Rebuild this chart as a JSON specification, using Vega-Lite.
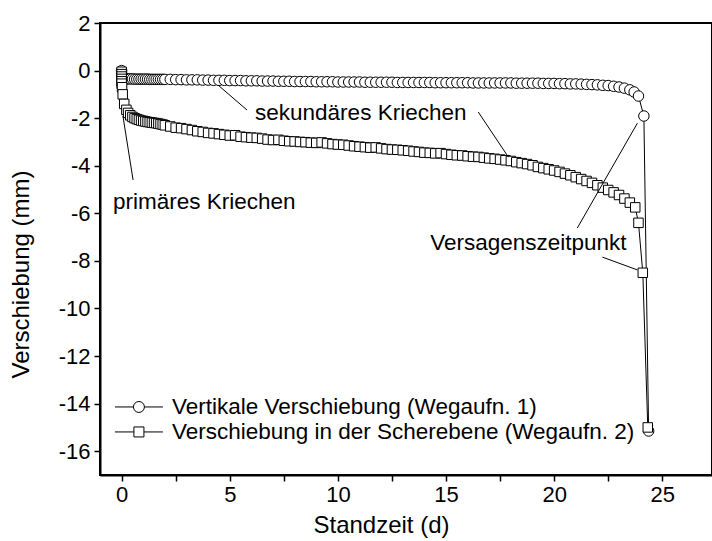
{
"$schema":"https://vega.github.io/schema/vega-lite/v6.json",
"width":612,"height":452,
"autosize":{"type":"none"},
"padding":{"left":100,"top":23,"right":0,"bottom":66},
"background":"white",
"config":{"font":"Liberation Sans","view":{"stroke":"black","strokeWidth":2},
 "axis":{"labelFont":"Liberation Sans","labelFontSize":22,"labelColor":"black","titleFont":"Liberation Sans","titleFontSize":24,"titleFontWeight":"normal","titleColor":"black","domainColor":"black","domainWidth":2,"tickColor":"black","tickWidth":1.5,"grid":false}
},
"datasets":{
"d":[
{"s":"A","t":0,"v":0},{"s":"A","t":0,"v":-0.12},{"s":"A","t":0,"v":-0.22},{"s":"A","t":0.02,"v":-0.3},{"s":"A","t":0.05,"v":-0.33},{"s":"A","t":0.1,"v":-0.34},{"s":"A","t":0.15,"v":-0.34},{"s":"A","t":0.2,"v":-0.35},{"s":"A","t":0.3,"v":-0.35},{"s":"A","t":0.4,"v":-0.35},{"s":"A","t":0.5,"v":-0.35},{"s":"A","t":0.6,"v":-0.36},{"s":"A","t":0.7,"v":-0.36},{"s":"A","t":0.8,"v":-0.36},{"s":"A","t":0.9,"v":-0.36},{"s":"A","t":1.0,"v":-0.36},{"s":"A","t":1.1,"v":-0.36},{"s":"A","t":1.2,"v":-0.36},{"s":"A","t":1.3,"v":-0.37},{"s":"A","t":1.4,"v":-0.37},{"s":"A","t":1.5,"v":-0.37},{"s":"A","t":1.6,"v":-0.37},{"s":"A","t":1.7,"v":-0.37},{"s":"A","t":1.8,"v":-0.37},{"s":"A","t":1.9,"v":-0.37},{"s":"A","t":2.0,"v":-0.37},
{"s":"A","t":2.25,"v":-0.37},{"s":"A","t":2.5,"v":-0.38},{"s":"A","t":2.75,"v":-0.38},{"s":"A","t":3,"v":-0.39},{"s":"A","t":3.25,"v":-0.39},{"s":"A","t":3.5,"v":-0.39},{"s":"A","t":3.75,"v":-0.4},{"s":"A","t":4,"v":-0.4},{"s":"A","t":4.25,"v":-0.41},{"s":"A","t":4.5,"v":-0.41},{"s":"A","t":4.75,"v":-0.41},{"s":"A","t":5,"v":-0.42},{"s":"A","t":5.25,"v":-0.42},{"s":"A","t":5.5,"v":-0.42},{"s":"A","t":5.75,"v":-0.43},{"s":"A","t":6,"v":-0.43},{"s":"A","t":6.25,"v":-0.43},{"s":"A","t":6.5,"v":-0.44},{"s":"A","t":6.75,"v":-0.44},{"s":"A","t":7,"v":-0.44},{"s":"A","t":7.25,"v":-0.45},{"s":"A","t":7.5,"v":-0.45},{"s":"A","t":7.75,"v":-0.45},{"s":"A","t":8,"v":-0.46},{"s":"A","t":8.25,"v":-0.46},{"s":"A","t":8.5,"v":-0.46},{"s":"A","t":8.75,"v":-0.46},{"s":"A","t":9,"v":-0.47},{"s":"A","t":9.25,"v":-0.47},{"s":"A","t":9.5,"v":-0.47},{"s":"A","t":9.75,"v":-0.47},{"s":"A","t":10,"v":-0.48},{"s":"A","t":10.25,"v":-0.48},{"s":"A","t":10.5,"v":-0.48},{"s":"A","t":10.75,"v":-0.48},{"s":"A","t":11,"v":-0.48},{"s":"A","t":11.25,"v":-0.49},{"s":"A","t":11.5,"v":-0.49},{"s":"A","t":11.75,"v":-0.49},{"s":"A","t":12,"v":-0.49},{"s":"A","t":12.25,"v":-0.49},{"s":"A","t":12.5,"v":-0.49},{"s":"A","t":12.75,"v":-0.5},{"s":"A","t":13,"v":-0.5},{"s":"A","t":13.25,"v":-0.5},{"s":"A","t":13.5,"v":-0.5},{"s":"A","t":13.75,"v":-0.5},{"s":"A","t":14,"v":-0.5},{"s":"A","t":14.25,"v":-0.5},{"s":"A","t":14.5,"v":-0.51},{"s":"A","t":14.75,"v":-0.51},{"s":"A","t":15,"v":-0.51},{"s":"A","t":15.25,"v":-0.51},{"s":"A","t":15.5,"v":-0.51},{"s":"A","t":15.75,"v":-0.51},{"s":"A","t":16,"v":-0.51},{"s":"A","t":16.25,"v":-0.52},{"s":"A","t":16.5,"v":-0.52},{"s":"A","t":16.75,"v":-0.52},{"s":"A","t":17,"v":-0.52},{"s":"A","t":17.25,"v":-0.52},{"s":"A","t":17.5,"v":-0.52},{"s":"A","t":17.75,"v":-0.52},{"s":"A","t":18,"v":-0.52},{"s":"A","t":18.25,"v":-0.53},{"s":"A","t":18.5,"v":-0.53},{"s":"A","t":18.75,"v":-0.53},{"s":"A","t":19,"v":-0.53},{"s":"A","t":19.25,"v":-0.53},{"s":"A","t":19.5,"v":-0.54},{"s":"A","t":19.75,"v":-0.54},{"s":"A","t":20,"v":-0.54},{"s":"A","t":20.25,"v":-0.55},{"s":"A","t":20.5,"v":-0.55},{"s":"A","t":20.75,"v":-0.56},{"s":"A","t":21,"v":-0.56},{"s":"A","t":21.25,"v":-0.57},{"s":"A","t":21.5,"v":-0.58},{"s":"A","t":21.75,"v":-0.59},{"s":"A","t":22,"v":-0.6},{"s":"A","t":22.25,"v":-0.62},{"s":"A","t":22.5,"v":-0.63},{"s":"A","t":22.75,"v":-0.66},{"s":"A","t":23,"v":-0.69},{"s":"A","t":23.25,"v":-0.74},{"s":"A","t":23.5,"v":-0.81},{"s":"A","t":23.7,"v":-0.9},{"s":"A","t":23.9,"v":-1.07},{"s":"A","t":24.15,"v":-1.91},{"s":"A","t":24.37,"v":-15.15},
{"s":"B","t":0,"v":-0.05},{"s":"B","t":0,"v":-0.15},{"s":"B","t":0,"v":-0.25},{"s":"B","t":0,"v":-0.35},{"s":"B","t":0,"v":-0.45},{"s":"B","t":0,"v":-0.55},{"s":"B","t":0.02,"v":-0.7},{"s":"B","t":0.05,"v":-1.0},{"s":"B","t":0.12,"v":-1.4},{"s":"B","t":0.22,"v":-1.65},{"s":"B","t":0.3,"v":-1.78},{"s":"B","t":0.4,"v":-1.88},{"s":"B","t":0.5,"v":-1.95},{"s":"B","t":0.6,"v":-2.0},{"s":"B","t":0.7,"v":-2.04},{"s":"B","t":0.8,"v":-2.07},{"s":"B","t":0.9,"v":-2.1},{"s":"B","t":1.0,"v":-2.12},{"s":"B","t":1.1,"v":-2.14},{"s":"B","t":1.2,"v":-2.16},{"s":"B","t":1.3,"v":-2.17},{"s":"B","t":1.4,"v":-2.19},{"s":"B","t":1.5,"v":-2.2},{"s":"B","t":1.6,"v":-2.21},{"s":"B","t":1.7,"v":-2.23},{"s":"B","t":1.8,"v":-2.25},{"s":"B","t":1.9,"v":-2.27},{"s":"B","t":2.0,"v":-2.3},
{"s":"B","t":2.25,"v":-2.35},{"s":"B","t":2.5,"v":-2.4},{"s":"B","t":2.75,"v":-2.42},{"s":"B","t":3,"v":-2.46},{"s":"B","t":3.25,"v":-2.5},{"s":"B","t":3.5,"v":-2.55},{"s":"B","t":3.75,"v":-2.58},{"s":"B","t":4,"v":-2.62},{"s":"B","t":4.25,"v":-2.64},{"s":"B","t":4.5,"v":-2.67},{"s":"B","t":4.75,"v":-2.7},{"s":"B","t":5,"v":-2.73},{"s":"B","t":5.25,"v":-2.72},{"s":"B","t":5.5,"v":-2.78},{"s":"B","t":5.75,"v":-2.8},{"s":"B","t":6,"v":-2.82},{"s":"B","t":6.25,"v":-2.83},{"s":"B","t":6.5,"v":-2.86},{"s":"B","t":6.75,"v":-2.9},{"s":"B","t":7,"v":-2.92},{"s":"B","t":7.25,"v":-2.91},{"s":"B","t":7.5,"v":-2.95},{"s":"B","t":7.75,"v":-2.97},{"s":"B","t":8,"v":-2.98},{"s":"B","t":8.25,"v":-3.0},{"s":"B","t":8.5,"v":-3.01},{"s":"B","t":8.75,"v":-3.03},{"s":"B","t":9,"v":-3.04},{"s":"B","t":9.25,"v":-3.02},{"s":"B","t":9.5,"v":-3.06},{"s":"B","t":9.75,"v":-3.09},{"s":"B","t":10,"v":-3.11},{"s":"B","t":10.25,"v":-3.12},{"s":"B","t":10.5,"v":-3.15},{"s":"B","t":10.75,"v":-3.18},{"s":"B","t":11,"v":-3.2},{"s":"B","t":11.25,"v":-3.22},{"s":"B","t":11.5,"v":-3.24},{"s":"B","t":11.75,"v":-3.23},{"s":"B","t":12,"v":-3.27},{"s":"B","t":12.25,"v":-3.3},{"s":"B","t":12.5,"v":-3.32},{"s":"B","t":12.75,"v":-3.33},{"s":"B","t":13,"v":-3.35},{"s":"B","t":13.25,"v":-3.37},{"s":"B","t":13.5,"v":-3.4},{"s":"B","t":13.75,"v":-3.42},{"s":"B","t":14,"v":-3.45},{"s":"B","t":14.25,"v":-3.46},{"s":"B","t":14.5,"v":-3.48},{"s":"B","t":14.75,"v":-3.47},{"s":"B","t":15,"v":-3.51},{"s":"B","t":15.25,"v":-3.54},{"s":"B","t":15.5,"v":-3.56},{"s":"B","t":15.75,"v":-3.57},{"s":"B","t":16,"v":-3.6},{"s":"B","t":16.25,"v":-3.62},{"s":"B","t":16.5,"v":-3.63},{"s":"B","t":16.75,"v":-3.66},{"s":"B","t":17,"v":-3.69},{"s":"B","t":17.25,"v":-3.71},{"s":"B","t":17.5,"v":-3.74},{"s":"B","t":17.75,"v":-3.77},{"s":"B","t":18,"v":-3.8},{"s":"B","t":18.25,"v":-3.85},{"s":"B","t":18.5,"v":-3.89},{"s":"B","t":18.75,"v":-3.93},{"s":"B","t":19,"v":-3.98},{"s":"B","t":19.25,"v":-4.05},{"s":"B","t":19.5,"v":-4.1},{"s":"B","t":19.75,"v":-4.15},{"s":"B","t":20,"v":-4.2},{"s":"B","t":20.25,"v":-4.26},{"s":"B","t":20.5,"v":-4.33},{"s":"B","t":20.75,"v":-4.4},{"s":"B","t":21,"v":-4.48},{"s":"B","t":21.25,"v":-4.56},{"s":"B","t":21.5,"v":-4.64},{"s":"B","t":21.75,"v":-4.72},{"s":"B","t":22,"v":-4.82},{"s":"B","t":22.25,"v":-4.92},{"s":"B","t":22.5,"v":-5.02},{"s":"B","t":22.75,"v":-5.12},{"s":"B","t":23,"v":-5.23},{"s":"B","t":23.25,"v":-5.38},{"s":"B","t":23.5,"v":-5.55},{"s":"B","t":23.75,"v":-5.75},{"s":"B","t":23.9,"v":-6.4},{"s":"B","t":24.1,"v":-8.5},{"s":"B","t":24.33,"v":-15.0}
],
"ann":[
{"label":"primäres Kriechen","t":-0.4,"v":-5.52},
{"label":"sekundäres Kriechen","t":6.17,"v":-1.78},
{"label":"Versagenszeitpunkt","t":14.27,"v":-7.25}
],
"lead":[
{"t":0.53,"v":-4.6,"t2":0.06,"v2":-1.91},
{"t":4.46,"v":-0.61,"t2":5.8,"v2":-1.66},
{"t":16.49,"v":-1.74,"t2":17.88,"v2":-3.63},
{"t":21.07,"v":-6.62,"t2":23.85,"v2":-2.21},
{"t":22.23,"v":-7.84,"t2":23.85,"v2":-8.38}
],
"leg":[
{"s":"A","t":0.8,"v":-14.14,"label":"Vertikale Verschiebung (Wegaufn. 1)"},
{"s":"B","t":0.8,"v":-15.19,"label":"Verschiebung in der Scherebene (Wegaufn. 2)"}
]
},
"layer":[
{"data":{"name":"d"},
 "mark":{"type":"line","color":"black","strokeWidth":1},
 "encoding":{
  "x":{"field":"t","type":"quantitative","scale":{"domain":[-1,27.3],"nice":false,"zero":false},
   "axis":{"orient":"bottom","values":[0,2.5,5,7.5,10,12.5,15,17.5,20,22.5,25],"ticks":true,"tickSize":6,"labelPadding":3,"labelExpr":"datum.value % 5 == 0 ? '' + datum.value : ''","title":"Standzeit (d)","titleX":281,"titleY":57,"titleBaseline":"alphabetic","titleAlign":"center"}},
  "y":{"field":"v","type":"quantitative","scale":{"domain":[-17,2],"nice":false,"zero":false},
   "axis":{"orient":"left","values":[-16,-15,-14,-13,-12,-11,-10,-9,-8,-7,-6,-5,-4,-3,-2,-1,0,1,2],"ticks":true,"tickSize":6,"labelPadding":4,"labelExpr":"datum.value % 2 == 0 ? '' + datum.value : ''","title":"Verschiebung (mm)","titleX":-72,"titleY":251,"titleBaseline":"alphabetic","titleAlign":"center","titleAngle":-90}},
  "detail":{"field":"s"}
 }},
{"data":{"name":"d"},
 "transform":[{"filter":"datum.s == 'A'"}],
 "mark":{"type":"point","shape":"circle","size":110,"filled":true,"fill":"white","stroke":"black","strokeWidth":1,"opacity":1},
 "encoding":{
  "x":{"field":"t","type":"quantitative"},
  "y":{"field":"v","type":"quantitative"}
 }},
{"data":{"name":"d"},
 "transform":[{"filter":"datum.s == 'B'"}],
 "mark":{"type":"point","shape":"square","size":90,"filled":true,"fill":"white","stroke":"black","strokeWidth":1,"opacity":1},
 "encoding":{
  "x":{"field":"t","type":"quantitative"},
  "y":{"field":"v","type":"quantitative"}
 }},
{"data":{"name":"lead"},
 "mark":{"type":"rule","color":"black","strokeWidth":1},
 "encoding":{
  "x":{"field":"t","type":"quantitative"},
  "y":{"field":"v","type":"quantitative"},
  "x2":{"field":"t2"},
  "y2":{"field":"v2"}
 }},
{"data":{"name":"ann"},
 "mark":{"type":"text","align":"left","baseline":"middle","font":"Liberation Sans","fontSize":22.5,"color":"black"},
 "encoding":{
  "x":{"field":"t","type":"quantitative"},
  "y":{"field":"v","type":"quantitative"},
  "text":{"field":"label"}
 }},
{"data":{"name":"leg"},
 "mark":{"type":"rule","color":"black","strokeWidth":1,"xOffset":-24,"x2Offset":24},
 "encoding":{
  "x":{"field":"t","type":"quantitative"},
  "x2":{"field":"t"},
  "y":{"field":"v","type":"quantitative"}
 }},
{"data":{"name":"leg"},
 "mark":{"type":"point","filled":true,"fill":"white","stroke":"black","strokeWidth":1,"opacity":1},
 "encoding":{
  "x":{"field":"t","type":"quantitative"},
  "y":{"field":"v","type":"quantitative"},
  "shape":{"field":"s","type":"nominal","scale":{"domain":["A","B"],"range":["circle","square"]},"legend":null},
  "size":{"field":"s","type":"nominal","scale":{"domain":["A","B"],"range":[120,100]},"legend":null}
 }},
{"data":{"name":"leg"},
 "mark":{"type":"text","align":"left","baseline":"middle","dx":33,"font":"Liberation Sans","fontSize":22.5,"color":"black"},
 "encoding":{
  "x":{"field":"t","type":"quantitative"},
  "y":{"field":"v","type":"quantitative"},
  "text":{"field":"label"}
 }}
]
}
